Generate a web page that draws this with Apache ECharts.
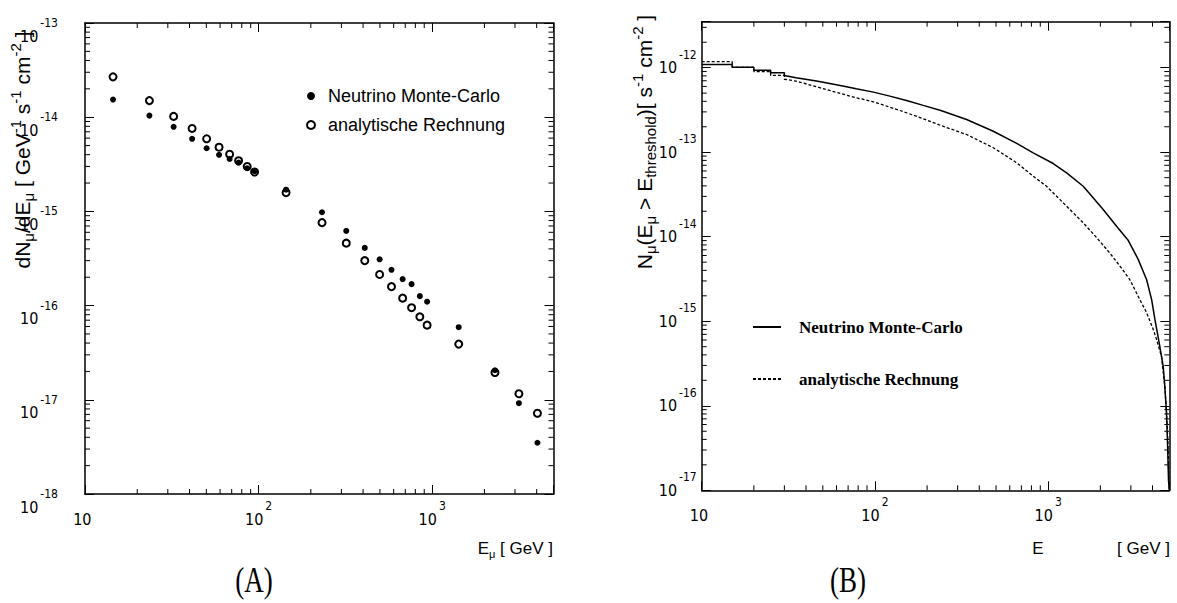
<!DOCTYPE html>
<html>
<head>
<meta charset="utf-8">
<script src="https://cdn.jsdelivr.net/npm/echarts@6/dist/echarts.min.js"></script>
<style>
  html, body { margin: 0; background: #fff; }
  #chart { width: 1177px; height: 603px; }
</style>
</head>
<body>
<div id="chart"></div>
<script>
// (A) differential muon flux vs muon energy
const energyA = [14.5, 23.5, 32.4, 41.4, 50.2, 59.2, 68.1, 76.7, 86, 94.8, 144, 232, 320, 409, 498, 583, 676, 761, 849, 935, 1422, 2300, 3160, 4040]
const fluxMC = [1.54e-14, 1.04e-14, 7.9e-15, 5.9e-15, 4.68e-15, 3.99e-15, 3.6e-15, 3.3e-15, 2.87e-15, 2.68e-15, 1.7e-15, 9.8e-16, 6.2e-16, 4.1e-16, 3.1e-16, 2.4e-16, 1.91e-16, 1.69e-16, 1.26e-16, 1.1e-16, 5.9e-17, 2.06e-17, 9.2e-18, 3.5e-18]
const fluxAna = [2.68e-14, 1.5e-14, 1.02e-14, 7.6e-15, 5.9e-15, 4.8e-15, 4.05e-15, 3.45e-15, 3.0e-15, 2.62e-15, 1.58e-15, 7.6e-16, 4.6e-16, 3.0e-16, 2.14e-16, 1.59e-16, 1.2e-16, 9.5e-17, 7.6e-17, 6.2e-17, 3.9e-17, 1.95e-17, 1.16e-17, 7.2e-18]

// (B) integral flux above threshold (histogram steps at low energy)
const energyMcB = [10, 15, 15, 20, 20, 25, 25, 30, 30, 35, 46, 63, 78, 98, 122, 152, 190, 240, 338, 482, 658, 819, 1069, 1277, 1593, 2076, 2481, 2900, 3307, 3700, 3954, 4130, 4410, 4613, 4710, 4820, 4890, 4950, 5000]
const intMC = [1.09e-12, 1.09e-12, 1.01e-12, 1.01e-12, 9.3e-13, 9.3e-13, 8.7e-13, 8.7e-13, 8.1e-13, 7.6e-13, 6.94e-13, 6.16e-13, 5.63e-13, 5.14e-13, 4.61e-13, 4.1e-13, 3.58e-13, 3.12e-13, 2.44e-13, 1.77e-13, 1.27e-13, 9.8e-14, 7.35e-14, 5.7e-14, 3.96e-14, 2.1e-14, 1.33e-14, 9.0e-15, 5.4e-15, 3.1e-15, 1.8e-15, 1.05e-15, 5.0e-16, 2.9e-16, 1.7e-16, 8.1e-17, 3.3e-17, 1.3e-17, 1e-17]
const energyAnaB = [10, 15, 15, 20, 20, 25, 25, 30, 30, 35, 46, 63, 78, 98, 122, 152, 190, 240, 338, 482, 658, 819, 978, 1170, 1334, 1593, 1900, 2270, 2594, 2960, 3307, 3700, 4040, 4230, 4510, 4710, 4820, 4920, 4970, 5000]
const intAna = [1.18e-12, 1.18e-12, 1.01e-12, 1.01e-12, 9.0e-13, 9.0e-13, 8.1e-13, 8.1e-13, 7.3e-13, 6.94e-13, 5.95e-13, 4.96e-13, 4.41e-13, 3.95e-13, 3.41e-13, 2.93e-13, 2.49e-13, 2.07e-13, 1.62e-13, 1.13e-13, 7.5e-14, 5.2e-14, 3.95e-14, 2.75e-14, 2.1e-14, 1.46e-14, 9.8e-15, 6.4e-15, 4.5e-15, 3.1e-15, 1.97e-15, 1.26e-15, 8.0e-16, 6.0e-16, 3.8e-16, 1.7e-16, 8.1e-17, 3.3e-17, 1.3e-17, 1e-17]

const minorMult = [2, 3, 4, 5, 6, 7, 8, 9]
const rangeX = [10, 5000]
const rangeYA = [1e-18, 1e-13]
const rangeYB = [1e-17, 3.5e-12]

const FONT = '"Liberation Sans", Arial, Helvetica, sans-serif'
const NARROW = '"Liberation Sans Narrow", "DejaVu Sans Condensed", "Liberation Sans", Arial, sans-serif'
const SERIF = '"Liberation Serif", "Times New Roman", serif'
const INK = '#000'

const isPow = (v) => { const e = Math.log10(v); return Math.abs(e - Math.round(e)) < 1e-6 }
const expOf = (v) => Math.round(Math.log10(v))

// "10" sits at the bottom of the line, the exponent at its top
const tickRich = {
  b: { fontFamily: NARROW, fontSize: 16, lineHeight: 27, verticalAlign: 'bottom', color: INK },
  e: { fontFamily: NARROW, fontSize: 12, lineHeight: 12, verticalAlign: 'top', padding: [0, 0, 0, 2], color: INK },
}
const titleRich = {
  n: { fontFamily: FONT, fontSize: 21, lineHeight: 28, verticalAlign: 'middle', color: INK },
  s: { fontFamily: FONT, fontSize: 15, lineHeight: 15, verticalAlign: 'bottom', color: INK },
  p: { fontFamily: FONT, fontSize: 15, lineHeight: 15, verticalAlign: 'top', color: INK },
}
const xTitleRich = {
  n: { fontFamily: FONT, fontSize: 17, lineHeight: 22, verticalAlign: 'middle', color: INK },
  s: { fontFamily: FONT, fontSize: 11, lineHeight: 11, verticalAlign: 'bottom', color: INK },
}

function xLabel(v) {
  if (!isPow(v)) return ''
  const e = expOf(v)
  return '{b|10}{e|' + (e === 1 ? ' ' : e) + '}'
}
function yLabel(v) {
  if (!isPow(v)) return ''
  return '{b|10}{e|' + expOf(v) + '}'
}

function logAxis(extra) {
  return Object.assign({
    type: 'log',
    logBase: 10,
    axisLine: { show: true, onZero: false, lineStyle: { color: INK, width: 1.5 } },
    axisTick: { show: true, inside: true, length: 9, lineStyle: { color: INK, width: 1 } },
    splitLine: { show: false },
    axisLabel: { show: false },
  }, extra)
}

function minorValues(r) {
  const out = []
  for (let d = Math.floor(Math.log10(r[0])); d <= Math.ceil(Math.log10(r[1])); d++) {
    minorMult.forEach((m) => {
      const v = m * Math.pow(10, d)
      if (v > r[0] * 1.0001 && v < r[1] * 0.9999) out.push(v)
    })
  }
  return out
}

// small ticks on all four frame sides, placed through the axis scales
function minorTickSeries(xi, yi, rx, ry, len) {
  const line = (x1, y1, x2, y2) => ({ type: 'line', shape: { x1, y1, x2, y2 }, style: { stroke: INK, lineWidth: 1 } })
  return [
    {
      type: 'custom', xAxisIndex: xi, yAxisIndex: yi, silent: true, clip: false, z: 5,
      data: minorValues(rx).map((v) => [v, ry[0]]),
      renderItem(params, api) {
        const a = api.coord([api.value(0), ry[0]])
        const b = api.coord([api.value(0), ry[1]])
        return { type: 'group', children: [line(a[0], a[1], a[0], a[1] - len), line(b[0], b[1], b[0], b[1] + len)] }
      },
    },
    {
      type: 'custom', xAxisIndex: xi, yAxisIndex: yi, silent: true, clip: false, z: 5,
      data: minorValues(ry).map((v) => [rx[0], v]),
      renderItem(params, api) {
        const a = api.coord([rx[0], api.value(1)])
        const b = api.coord([rx[1], api.value(1)])
        return { type: 'group', children: [line(a[0], a[1], a[0] + len, a[1]), line(b[0], b[1], b[0] - len, b[1])] }
      },
    },
  ]
}

const chart = echarts.init(document.getElementById('chart'), null, { renderer: 'svg' })

chart.setOption({
  backgroundColor: '#fff',
  animation: false,
  grid: [
    { left: 85, top: 23, right: 623.5, bottom: 109 },
    { left: 701.7, top: 21.7, right: 7.7, bottom: 112.7 },
  ],
  xAxis: [
    logAxis({ gridIndex: 0, position: 'bottom', min: rangeX[0], max: rangeX[1],
      axisLabel: { show: true, formatter: xLabel, rich: tickRich, margin: 6 } }),
    logAxis({ gridIndex: 0, position: 'top', min: rangeX[0], max: rangeX[1] }),
    logAxis({ gridIndex: 1, position: 'bottom', min: rangeX[0], max: rangeX[1],
      axisLabel: { show: true, formatter: xLabel, rich: tickRich, margin: 6 } }),
    logAxis({ gridIndex: 1, position: 'top', min: rangeX[0], max: rangeX[1] }),
  ],
  yAxis: [
    logAxis({ gridIndex: 0, position: 'left', min: rangeYA[0], max: rangeYA[1],
      axisLabel: { show: true, formatter: yLabel, rich: tickRich, margin: 27, padding: [15, 0, 0, 0] } }),
    logAxis({ gridIndex: 0, position: 'right', min: rangeYA[0], max: rangeYA[1] }),
    logAxis({ gridIndex: 1, position: 'left', min: rangeYB[0], max: rangeYB[1],
      axisLabel: { show: true, formatter: yLabel, rich: tickRich, margin: 5, padding: [0, 0, 11, 0] } }),
    logAxis({ gridIndex: 1, position: 'right', min: rangeYB[0], max: rangeYB[1] }),
  ],
  legend: [
    {
      left: 306, top: 86, padding: 0, orient: 'vertical', selectedMode: false,
      itemWidth: 24, itemHeight: 8, itemGap: 9,
      data: [{ name: 'Neutrino Monte-Carlo', icon: 'circle' }, { name: 'analytische Rechnung', icon: 'emptyCircle' }],
      textStyle: { fontFamily: FONT, fontSize: 18, lineHeight: 20, color: INK },
    },
    {
      left: 752, top: 317, padding: 0, orient: 'vertical', selectedMode: false,
      itemWidth: 28, itemHeight: 10, itemGap: 32,
      itemStyle: { opacity: 0 },
      data: ['Neutrino Monte-Carlo ', 'analytische Rechnung '],
      textStyle: { fontFamily: SERIF, fontWeight: 'bold', fontSize: 17, lineHeight: 20, color: INK, padding: [0, 0, 0, 13] },
    },
  ],
  graphic: [
    { type: 'text', x: 22, y: 150, rotation: Math.PI / 2,
      style: { text: '{n|dN}{s|μ}{n|/dE}{s|μ}{n| [ GeV}{p|-1}{n| s}{p|-1}{n| cm}{p|-2}{n| ]}', rich: titleRich, align: 'center', verticalAlign: 'middle' } },
    { type: 'text', x: 644, y: 142, rotation: Math.PI / 2,
      style: { text: '{n|N}{s|μ}{n|(E}{s|μ}{n| > E}{s|threshold}{n|)[ s}{p|-1}{n| cm}{p|-2}{n| ]}', rich: titleRich, align: 'center', verticalAlign: 'middle' } },
    { type: 'text', x: 553, y: 548,
      style: { text: '{n|E}{s|μ}{n| [ GeV ]}', rich: xTitleRich, align: 'right', verticalAlign: 'middle' } },
    { type: 'text', x: 1038, y: 548,
      style: { text: '{n|E}', rich: xTitleRich, align: 'center', verticalAlign: 'middle' } },
    { type: 'text', x: 1170, y: 548,
      style: { text: '{n|[ GeV ]}', rich: xTitleRich, align: 'right', verticalAlign: 'middle' } },
    { type: 'text', x: 254, y: 580, scaleY: 1.3,
      style: { text: '(A)', fontFamily: SERIF, fontSize: 27, fill: INK, align: 'center', verticalAlign: 'middle' } },
    { type: 'text', x: 848, y: 580, scaleY: 1.3,
      style: { text: '(B)', fontFamily: SERIF, fontSize: 27, fill: INK, align: 'center', verticalAlign: 'middle' } },
  ],
  series: [
    {
      name: 'analytische Rechnung', type: 'scatter', xAxisIndex: 0, yAxisIndex: 0,
      symbol: 'emptyCircle', symbolSize: 7,
      itemStyle: { color: INK, borderColor: INK, borderWidth: 1, opacity: 1 },
      data: energyA.map((e, i) => [e, fluxAna[i]]),
    },
    {
      name: 'Neutrino Monte-Carlo', type: 'scatter', xAxisIndex: 0, yAxisIndex: 0,
      symbol: 'circle', symbolSize: 6,
      itemStyle: { color: INK, opacity: 1 },
      data: energyA.map((e, i) => [e, fluxMC[i]]),
    },
    {
      name: 'Neutrino Monte-Carlo ', type: 'line', xAxisIndex: 2, yAxisIndex: 2,
      symbol: 'none', itemStyle: { color: INK }, lineStyle: { color: INK, width: 1.5 },
      data: energyMcB.map((e, i) => [e, intMC[i]]),
    },
    {
      name: 'analytische Rechnung ', type: 'line', xAxisIndex: 2, yAxisIndex: 2,
      symbol: 'none', itemStyle: { color: INK }, lineStyle: { color: INK, width: 1.3, type: [3, 2] },
      data: energyAnaB.map((e, i) => [e, intAna[i]]),
    },
    ...minorTickSeries(0, 0, rangeX, rangeYA, 5),
    ...minorTickSeries(2, 2, rangeX, rangeYB, 5),
  ],
})
</script>
</body>
</html>
